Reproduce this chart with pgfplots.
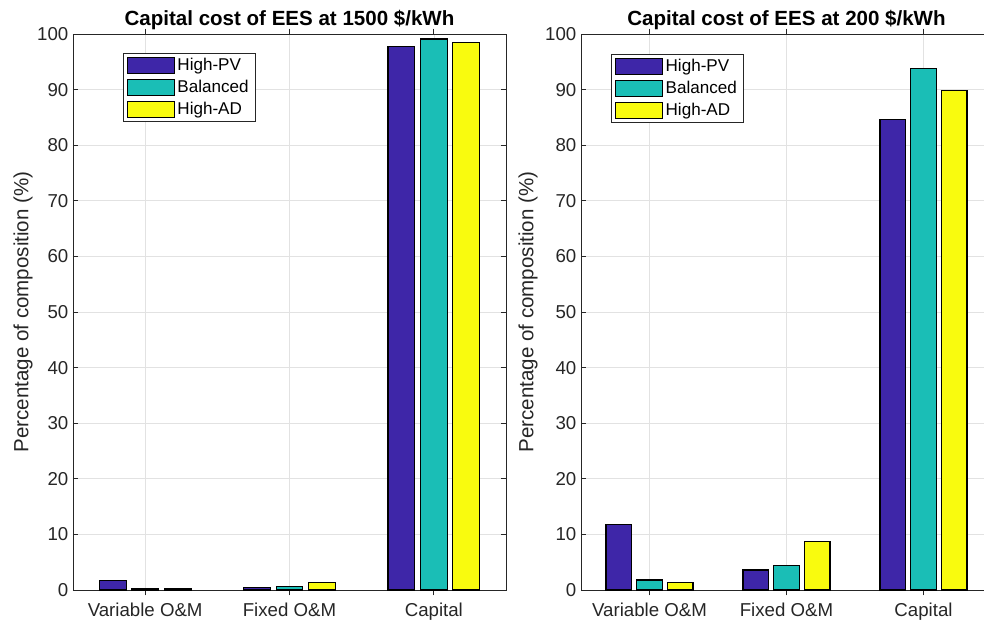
\documentclass[border=0pt]{standalone}
\usepackage{pgfplots}
\pgfplotsset{compat=1.18}
\usepackage{fontspec}
\setmainfont{Liberation Sans}
\definecolor{cPV}{RGB}{62,38,168}
\definecolor{cBal}{RGB}{26,190,182}
\definecolor{cAD}{RGB}{249,251,14}
\definecolor{axgray}{RGB}{38,38,38}
\definecolor{gridgray}{RGB}{226,226,226}
\pgfplotsset{
  mystyle/.style={
    scale only axis,
    height=417pt,
    ymin=0, ymax=100,
    xmin=0.5, xmax=3.5,
    ytick={0,10,...,100},
    xtick={1,2,3},
    xticklabels={Variable O\&M, Fixed O\&M, Capital},
    grid=major,
    major grid style={gridgray, line width=0.5pt},
    axis line style={axgray, line width=0.6pt},
    tick style={axgray, line width=0.6pt},
    major tick length=4pt,
    tick label style={font=\fontsize{14}{16}\selectfont, text=axgray},
    xticklabel style={yshift=-2.5pt},
    /pgf/number format/assume math mode=true,
    label style={font=\fontsize{15.4}{17}\selectfont, text=axgray},
    title style={font=\bfseries\fontsize{15.4}{17}\selectfont, at={(axis description cs:0.5,1)}, anchor=base, yshift=0.5pt},
    ybar, bar width=0.185,
    legend cell align=left,
    legend style={draw=axgray, fill=white, font=\fontsize{12.8}{14}\selectfont, text=black,
      inner xsep=3pt, inner ysep=2.5pt, row sep=2.5pt,
      nodes={inner xsep=2pt, inner ysep=1.5pt}},
    legend image code/.code={\draw[#1, line width=0.8pt] (0pt,-6pt) rectangle (35pt,6pt);},
  },
  pv/.style={fill=cPV, draw=black, line width=0.8pt, bar shift=-0.225},
  bal/.style={fill=cBal, draw=black, line width=0.8pt, bar shift=0},
  ad/.style={fill=cAD, draw=black, line width=0.8pt, bar shift=0.225},
}
\begin{document}
\begin{tikzpicture}
\useasboundingbox (-54.75pt,-24pt) rectangle (683.25pt,442.5pt);
\begin{axis}[mystyle, width=324.75pt, at={(0pt,0pt)}, anchor=south west,
  title={Capital cost of EES at 1500 \$/kWh},
  ylabel={Percentage of composition (\%)},
  ylabel style={at={(axis description cs:-0.1155,0.5)}, anchor=center, rotate=0},
  legend style={at={(axis description cs:0.115,0.966)}, anchor=north west}]
\addplot[pv] coordinates {(1,1.7) (2,0.5) (3,97.7)};
\addplot[bal] coordinates {(1,0.3) (2,0.6) (3,99.1)};
\addplot[ad] coordinates {(1,0.2) (2,1.3) (3,98.5)};
\legend{High-PV, Balanced, High-AD}
\end{axis}
\begin{axis}[mystyle, width=308.25pt, at={(381pt,0pt)}, anchor=south west,
  title={Capital cost of EES at 200 \$/kWh},
  ylabel={Percentage of composition (\%)},
  ylabel style={at={(axis description cs:-0.129,0.5)}, anchor=center, rotate=0},
  legend style={at={(axis description cs:0.073,0.964)}, anchor=north west}]
\addplot[pv] coordinates {(1,11.7) (2,3.6) (3,84.7)};
\addplot[bal] coordinates {(1,1.8) (2,4.4) (3,93.8)};
\addplot[ad] coordinates {(1,1.3) (2,8.8) (3,89.9)};
\legend{High-PV, Balanced, High-AD}
\end{axis}
\end{tikzpicture}
\end{document}
